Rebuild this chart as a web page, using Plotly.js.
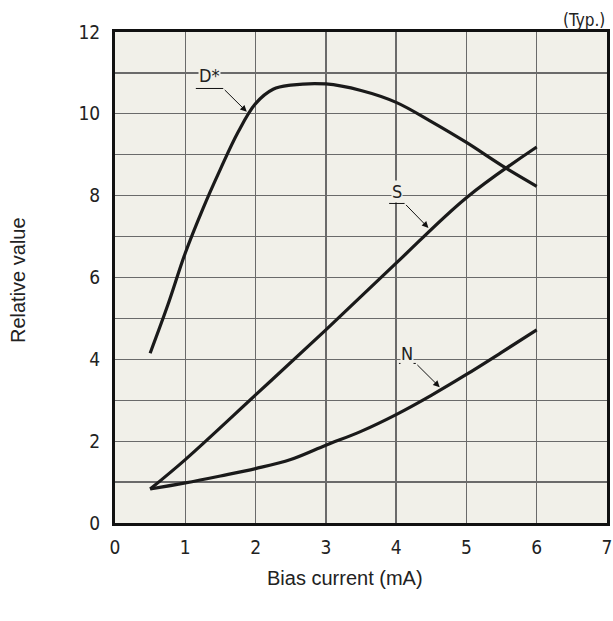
<!DOCTYPE html>
<html>
<head>
<meta charset="utf-8">
<script src="https://cdn.plot.ly/plotly-3.0.1.min.js"></script>
<style>html,body{margin:0;padding:0;background:#fff;}#chart{width:613px;height:621px;}</style>
</head>
<body>
<div id="chart"></div>
<script>
// Bias current (mA) vs relative value
const dStarX = [0.5, 0.75, 1.0, 1.25, 1.5, 1.75, 2.0, 2.25, 2.5, 3.0, 3.5, 4.0, 4.5, 5.0, 5.5, 6.0];
const dStarY = [4.15, 5.32, 6.6, 7.68, 8.65, 9.55, 10.25, 10.6, 10.7, 10.73, 10.57, 10.28, 9.81, 9.3, 8.74, 8.23];
const sX = [0.5, 1.0, 2.0, 3.0, 4.0, 5.0, 6.0];
const sY = [0.83, 1.55, 3.13, 4.72, 6.35, 7.95, 9.19];
const nX = [0.5, 1.0, 1.5, 2.0, 2.5, 3.0, 3.5, 4.0, 4.5, 5.0, 5.5, 6.0];
const nY = [0.83, 0.98, 1.15, 1.33, 1.55, 1.9, 2.24, 2.65, 3.12, 3.63, 4.17, 4.72];
const xTicks = [0, 1, 2, 3, 4, 5, 6, 7];
const yTicks = [0, 2, 4, 6, 8, 10, 12];
const labels = ["D*", "S", "N"];

const lineStyle = {color: '#1a1a1a', width: 3.2, shape: 'spline', smoothing: 1};
const traces = [
  {x: dStarX, y: dStarY, mode: 'lines', line: lineStyle, name: labels[0], hoverinfo: 'skip'},
  {x: sX, y: sY, mode: 'lines', line: lineStyle, name: labels[1], hoverinfo: 'skip'},
  {x: nX, y: nY, mode: 'lines', line: lineStyle, name: labels[2], hoverinfo: 'skip'}
];

const bg = '#f1f0e9';
const numFamily = 'DejaVu Sans Condensed, DejaVu Sans, Verdana, sans-serif';
const tickFont = {family: numFamily, size: 19, color: '#222'};
const labelFont = {family: numFamily, size: 18, color: '#222'};
const axisCommon = {
  showline: true, mirror: true, linecolor: '#111', linewidth: 3,
  showgrid: true, gridcolor: '#6a6a6a', gridwidth: 1.3,
  zeroline: false, ticks: '', tickfont: tickFont, fixedrange: true
};

function labelAnn(text, x, y) {
  return {x: x, y: y, xref: 'x', yref: 'y', text: text, showarrow: false,
          font: labelFont, bgcolor: bg, borderpad: 0, xanchor: 'center', yanchor: 'middle'};
}
function arrowAnn(tipX, tipY, fromX, fromY) {
  return {x: tipX, y: tipY, xref: 'x', yref: 'y', ax: fromX, ay: fromY, axref: 'x', ayref: 'y',
          text: '', showarrow: true, arrowhead: 2, arrowsize: 1.3, arrowwidth: 1, arrowcolor: '#111'};
}
function underline(x0, x1, y) {
  return {type: 'line', xref: 'x', yref: 'y', x0: x0, x1: x1, y0: y, y1: y,
          line: {color: '#111', width: 1}};
}

const layout = {
  width: 613, height: 621,
  margin: {l: 115, r: 6, t: 32, b: 98},
  paper_bgcolor: '#fff', plot_bgcolor: bg,
  showlegend: false,
  xaxis: Object.assign({}, axisCommon, {range: [0, 7], tickvals: xTicks, ticklabelstandoff: 5}),
  yaxis: Object.assign({}, axisCommon, {range: [0, 12], tickvals: yTicks, ticklabelstandoff: 8,
    minor: {dtick: 1, showgrid: true, gridcolor: '#6a6a6a', gridwidth: 1.3}}),
  shapes: [
    underline(1.15, 1.54, 10.62),
    underline(3.9, 4.12, 7.81),
    underline(4.04, 4.28, 3.9)
  ],
  annotations: [
    labelAnn(labels[0], 1.35, 10.93),
    labelAnn(labels[1], 4.01, 8.1),
    labelAnn(labels[2], 4.16, 4.15),
    arrowAnn(1.875, 10.05, 1.54, 10.62),
    arrowAnn(4.46, 7.21, 4.12, 7.81),
    arrowAnn(4.62, 3.32, 4.28, 3.9),
    {xref: 'paper', yref: 'paper', x: 1.0, y: 1.0, xanchor: 'right', yanchor: 'bottom', yshift: 0,
     text: '(Typ.)', showarrow: false, font: {family: numFamily, size: 17, color: '#222'}},
    {xref: 'paper', yref: 'paper', x: -0.197, y: 0.495, xanchor: 'center', yanchor: 'middle',
     text: 'Relative value', textangle: -90, showarrow: false,
     font: {family: 'Liberation Sans, Arial, sans-serif', size: 20, color: '#222'}},
    {xref: 'paper', yref: 'paper', x: 0.4675, y: -0.112, xanchor: 'center', yanchor: 'middle',
     text: 'Bias current (mA)', showarrow: false,
     font: {family: 'Liberation Sans, Arial, sans-serif', size: 20, color: '#222'}}
  ]
};

Plotly.newPlot('chart', traces, layout, {staticPlot: true, displayModeBar: false});
</script>
</body>
</html>
